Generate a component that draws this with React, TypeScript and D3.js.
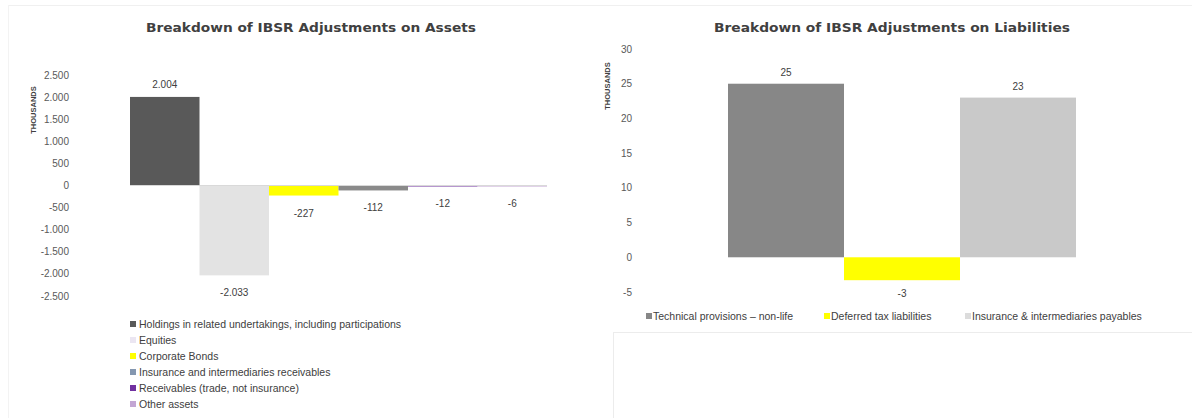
import React from "react";
import * as d3 from "d3";

const assetSeries = [
  "Holdings in related undertakings, including participations",
  "Equities",
  "Corporate Bonds",
  "Insurance and intermediaries receivables",
  "Receivables (trade, not insurance)",
  "Other assets",
];
const assetValues = [2004, -2033, -227, -112, -12, -6];
const assetColors = ["#595959", "#e3e3e3", "#ffff00", "#8a8a8a", "#7030a0", "#c3a6d4"];
const assetLegendColors = ["#595959", "#ebe6f2", "#ffff00", "#8497b0", "#7030a0", "#c3a6d4"];
const assetTicks = [2500, 2000, 1500, 1000, 500, 0, -500, -1000, -1500, -2000, -2500];

const liabSeries = [
  "Technical provisions – non-life",
  "Deferred tax liabilities",
  "Insurance & intermediaries payables",
];
const liabValues = [25, -3.3, 23];
const liabLabels = ["25", "-3", "23"];
const liabColors = ["#878787", "#ffff00", "#c9c9c9"];
const liabTicks = [30, 25, 20, 15, 10, 5, 0, -5];

const fmt = d3.formatLocale({ decimal: ",", thousands: ".", grouping: [3], currency: ["", ""], minus: "-" }).format(",d");

const FONT = "'Liberation Sans', Arial, sans-serif";
const TITLE_FONT = "'DejaVu Sans', Verdana, sans-serif";

export default function App() {
  const yA = d3.scaleLinear().domain([-2500, 2500]).range([296, 75]);
  const xA = d3.scaleBand<string>().domain(assetSeries).range([130, 547]).padding(0);
  const yL = d3.scaleLinear().domain([-5, 30]).range([292, 49]);
  const xL = d3.scaleBand<string>().domain(liabSeries).range([728, 1076]).padding(0);

  const legendXs = [646, 824, 965];

  return (
    <svg width={1192} height={418} style={{ position: "absolute", left: 0, top: 0, background: "#fff" }}>
      <rect x={0} y={0} width={1192} height={418} fill="#fff" />
      <line x1={8} x2={1192} y1={5.5} y2={5.5} stroke="#f0f0f0" />
      <line x1={8.5} x2={8.5} y1={5} y2={418} stroke="#f3f3f3" />
      <line x1={613} x2={1192} y1={332.5} y2={332.5} stroke="#ececec" />
      <line x1={613.5} x2={613.5} y1={332} y2={418} stroke="#ececec" />

      {/* ===== Left chart ===== */}
      <text x={311} y={32} textAnchor="middle" fontFamily={TITLE_FONT} fontWeight="bold" fontSize={12.5} fill="#404040" textLength={330} lengthAdjust="spacingAndGlyphs">
        Breakdown of IBSR Adjustments on Assets
      </text>
      <text transform={`translate(36,110) rotate(-90)`} textAnchor="middle" fontFamily={FONT} fontWeight="bold" fontSize={7.5} fill="#404040">
        THOUSANDS
      </text>
      {assetTicks.map((t) => (
        <text key={t} x={69} y={yA(t)} dy="0.35em" textAnchor="end" fontFamily={FONT} fontSize={10} fill="#595959">
          {fmt(t)}
        </text>
      ))}
      {assetSeries.map((s, i) => {
        const v = assetValues[i];
        const y0 = yA(0);
        const y1 = yA(v);
        return (
          <rect key={s} x={xA(s)} width={xA.bandwidth()} y={Math.min(y0, y1)} height={Math.max(Math.abs(y1 - y0), 1)} fill={assetColors[i]} />
        );
      })}
      <line x1={130} x2={547} y1={yA(0)} y2={yA(0)} stroke="#d9d9d9" strokeWidth={1} />
      {assetSeries.map((s, i) => {
        const v = assetValues[i];
        const cx = (xA(s) as number) + xA.bandwidth() / 2;
        const y = v >= 0 ? yA(v) - 9 : Math.max(yA(v) + 21, yA(0) + 19);
        return (
          <text key={s} x={cx} y={y} textAnchor="middle" fontFamily={FONT} fontSize={10} fill="#404040">
            {fmt(v)}
          </text>
        );
      })}
      {assetSeries.map((s, i) => (
        <g key={s}>
          <rect x={130} y={321 + i * 16} width={6} height={6} fill={assetLegendColors[i]} />
          <text x={139} y={328 + i * 16} fontFamily={FONT} fontSize={10.5} fill="#404040">
            {s}
          </text>
        </g>
      ))}

      {/* ===== Right chart ===== */}
      <text x={892} y={32} textAnchor="middle" fontFamily={TITLE_FONT} fontWeight="bold" fontSize={12.5} fill="#404040" textLength={356} lengthAdjust="spacingAndGlyphs">
        Breakdown of IBSR Adjustments on Liabilities
      </text>
      <text transform={`translate(610,86) rotate(-90)`} textAnchor="middle" fontFamily={FONT} fontWeight="bold" fontSize={7.5} fill="#404040">
        THOUSANDS
      </text>
      {liabTicks.map((t) => (
        <text key={t} x={632} y={yL(t)} dy="0.35em" textAnchor="end" fontFamily={FONT} fontSize={10} fill="#595959">
          {fmt(t)}
        </text>
      ))}
      {liabSeries.map((s, i) => {
        const v = liabValues[i];
        const y0 = yL(0);
        const y1 = yL(v);
        return <rect key={s} x={xL(s)} width={xL.bandwidth()} y={Math.min(y0, y1)} height={Math.abs(y1 - y0)} fill={liabColors[i]} />;
      })}
      {liabSeries.map((s, i) => {
        const v = liabValues[i];
        const cx = (xL(s) as number) + xL.bandwidth() / 2;
        const y = v >= 0 ? yL(v) - 8 : yL(v) + 17;
        return (
          <text key={s} x={cx} y={y} textAnchor="middle" fontFamily={FONT} fontSize={10} fill="#404040">
            {liabLabels[i]}
          </text>
        );
      })}
      {liabSeries.map((s, i) => (
        <g key={s}>
          <rect x={legendXs[i]} y={313} width={6} height={6} fill={liabColors[i] === "#c9c9c9" ? "#dcdcdc" : liabColors[i]} />
          <text x={legendXs[i] + 7} y={320} fontFamily={FONT} fontSize={10.5} fill="#404040">
            {s}
          </text>
        </g>
      ))}
    </svg>
  );
}
